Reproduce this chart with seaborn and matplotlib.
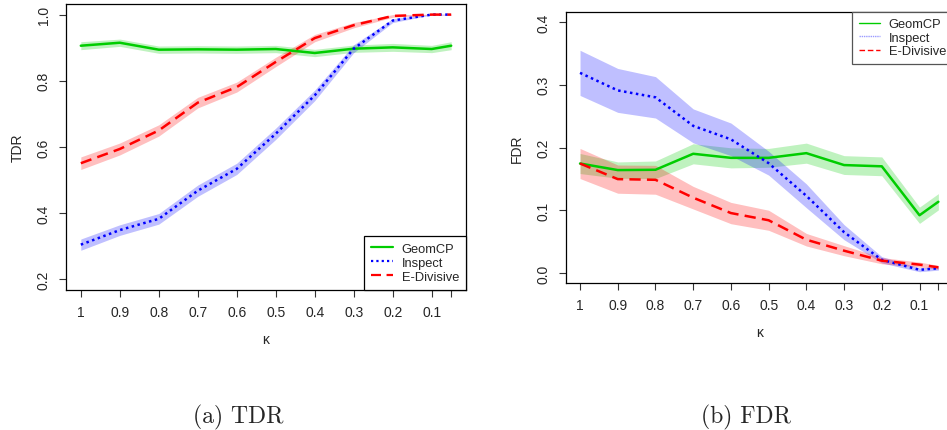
import numpy as np
import pandas as pd
import matplotlib
matplotlib.use("Agg")
import matplotlib.pyplot as plt
import seaborn as sns
from matplotlib.lines import Line2D

# ---------------- data ----------------
kappa = [1.0, 0.9, 0.8, 0.7, 0.6, 0.5, 0.4, 0.3, 0.2, 0.1, 0.05]
kappa_labels = ["1", "0.9", "0.8", "0.7", "0.6", "0.5", "0.4", "0.3", "0.2", "0.1", ""]

methods = ["GeomCP", "Inspect", "E-Divisive"]

tdr_geomcp = [0.906, 0.915, 0.894, 0.895, 0.894, 0.896, 0.884, 0.897, 0.901, 0.896, 0.906]
tdr_inspect = [0.305, 0.349, 0.383, 0.468, 0.534, 0.640, 0.756, 0.897, 0.982, 1.000, 1.000]
tdr_edivisive = [0.551, 0.594, 0.650, 0.734, 0.781, 0.857, 0.929, 0.968, 0.996, 1.000, 1.000]

tdr_geomcp_err = [0.012, 0.011, 0.011, 0.011, 0.011, 0.011, 0.011, 0.011, 0.012, 0.011, 0.012]
tdr_inspect_err = [0.017, 0.016, 0.016, 0.017, 0.017, 0.017, 0.016, 0.012, 0.006, 0.001, 0.001]
tdr_edivisive_err = [0.019, 0.018, 0.017, 0.016, 0.015, 0.014, 0.011, 0.008, 0.004, 0.001, 0.001]

fdr_geomcp = [0.1745, 0.164, 0.1645, 0.190, 0.1835, 0.1835, 0.191, 0.172, 0.170, 0.092, 0.1135]
fdr_inspect = [0.319, 0.291, 0.280, 0.2345, 0.213, 0.175, 0.123, 0.065, 0.021, 0.005, 0.0075]
fdr_edivisive = [0.1745, 0.1496, 0.1485, 0.120, 0.0955, 0.084, 0.053, 0.0355, 0.0196, 0.0133, 0.009]

fdr_geomcp_err = [0.016, 0.013, 0.014, 0.016, 0.016, 0.015, 0.016, 0.015, 0.015, 0.013, 0.013]
fdr_inspect_err = [0.036, 0.035, 0.033, 0.027, 0.026, 0.019, 0.019, 0.012, 0.005, 0.003, 0.003]
fdr_edivisive_err = [0.024, 0.0225, 0.023, 0.018, 0.017, 0.016, 0.010, 0.008, 0.005, 0.004, 0.003]

tdr_ticks = [0.2, 0.4, 0.6, 0.8, 1.0]
fdr_ticks = [0.0, 0.1, 0.2, 0.3, 0.4]

# ---------------- style ----------------
sns.set_theme(style="white")
plt.rcParams["font.family"] = ["Liberation Sans", "DejaVu Sans"]

line_colors = {"GeomCP": "#00CD00", "Inspect": "#0000FF", "E-Divisive": "#FF0000"}
band_colors = {"GeomCP": "#00CD00", "Inspect": "#0000FF", "E-Divisive": "#FF0000"}
line_styles = {"GeomCP": "-", "Inspect": (0, (1, 1.4)), "E-Divisive": (0, (4.5, 2.5))}

W, H = 947, 431
fig = plt.figure(figsize=(W / 100, H / 100), dpi=100)
fig.patch.set_facecolor("white")


def px_axes(left, top, right, bottom):
    return fig.add_axes([left / W, 1 - bottom / H, (right - left) / W, (bottom - top) / H])


ax1 = px_axes(66, 5, 466, 291)
ax2 = px_axes(565.7, 13, 952.7, 284)


def draw_panel(ax, vals, errs, ylim, yticks, ylabel):
    for m in methods:
        v = np.array(vals[m])
        e = np.array(errs[m])
        ax.fill_between(kappa, v - e, v + e, color=band_colors[m], alpha=0.25, lw=0, zorder=1)
    for m in methods:
        df = pd.DataFrame({"kappa": kappa, "value": vals[m]})
        sns.lineplot(data=df, x="kappa", y="value", ax=ax, color=line_colors[m],
                     linestyle=line_styles[m], lw=1.8, sort=False, zorder=3)
    rng = ylim[1] - ylim[0]
    ax.set_ylim(ylim[0] - 0.04 * rng, ylim[1] + 0.04 * rng)
    xr = 0.95
    ax.set_xlim(1.0 + 0.04 * xr, 0.05 - 0.04 * xr)
    ax.set_xticks(kappa)
    ax.set_xticklabels(kappa_labels)
    ax.set_yticks(yticks)
    ax.set_yticklabels([f"{t:.1f}" for t in yticks])
    ax.tick_params(axis="both", direction="out", length=5, width=0.8, color="#333333",
                   labelsize=10, pad=6, bottom=True, left=True)
    ax.tick_params(axis="y", labelrotation=90)
    for lab in ax.get_yticklabels():
        lab.set_va("center")
    for s in ax.spines.values():
        s.set_color("black")
        s.set_linewidth(0.9)
    ax.set_ylabel(ylabel, fontsize=10, va="center")
    ax.set_xlabel("κ", fontsize=10, va="center")
    ax.grid(False)


draw_panel(ax1,
           {"GeomCP": tdr_geomcp, "Inspect": tdr_inspect, "E-Divisive": tdr_edivisive},
           {"GeomCP": tdr_geomcp_err, "Inspect": tdr_inspect_err, "E-Divisive": tdr_edivisive_err},
           (0.2, 1.0), tdr_ticks, "TDR")
draw_panel(ax2,
           {"GeomCP": fdr_geomcp, "Inspect": fdr_inspect, "E-Divisive": fdr_edivisive},
           {"GeomCP": fdr_geomcp_err, "Inspect": fdr_inspect_err, "E-Divisive": fdr_edivisive_err},
           (0.0, 0.4), fdr_ticks, "FDR")

ax1.yaxis.set_label_coords(-0.12, 0.5)
ax1.xaxis.set_label_coords(0.5, -0.171)
ax2.yaxis.set_label_coords(-0.127, 0.5)
ax2.xaxis.set_label_coords(0.5, -0.181)

# legends
h1 = [Line2D([0], [0], color=line_colors[m], linestyle=line_styles[m], lw=1.6) for m in methods]
leg1 = ax1.legend(h1, methods, loc="lower right", bbox_to_anchor=(1, 0), borderaxespad=0,
                  fancybox=False, frameon=True, edgecolor="black", framealpha=1, fontsize=9.3,
                  handlelength=1.7, handletextpad=0.65, labelspacing=0.15, borderpad=0.55)
leg1.get_frame().set_linewidth(0.9)

leg_colors2 = {"GeomCP": "#00CD00", "Inspect": "#9a9aff", "E-Divisive": "#FF0000"}
leg_styles2 = {"GeomCP": "-", "Inspect": (0, (1, 0.6)), "E-Divisive": (0, (4, 2))}
h2 = [Line2D([0], [0], color=leg_colors2[m], linestyle=leg_styles2[m], lw=1.0) for m in methods]
leg2 = ax2.legend(h2, methods, loc="upper right", bbox_to_anchor=(1, 1), borderaxespad=0,
                  fancybox=False, frameon=True, edgecolor="#555555", framealpha=1, fontsize=9.3,
                  handlelength=1.7, handletextpad=0.65, labelspacing=0.1, borderpad=0.5)
leg2.get_frame().set_linewidth(0.9)

# captions
fig.text(238 / W, 1 - 417 / H, "(a) TDR", fontsize=17, family=["cmr10", "DejaVu Serif"],
         ha="center", va="center")
fig.text(746 / W, 1 - 417 / H, "(b) FDR", fontsize=17, family=["cmr10", "DejaVu Serif"],
         ha="center", va="center")

fig.savefig("out.png", dpi=100, facecolor="white")
